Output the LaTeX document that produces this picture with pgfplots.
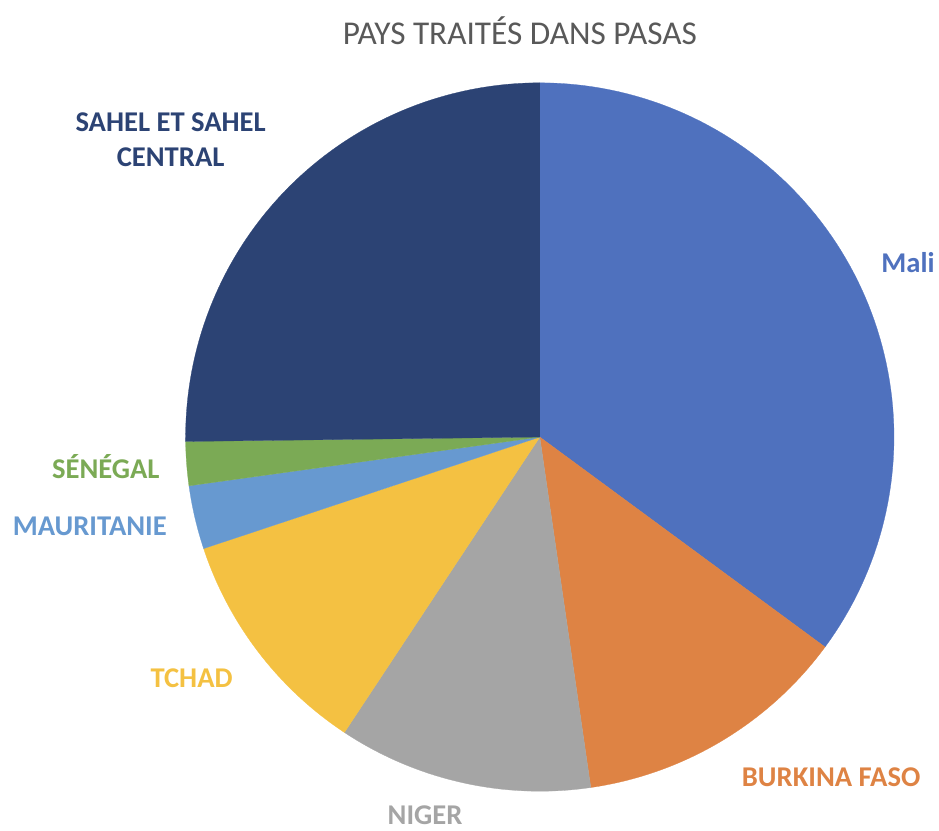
\documentclass[border=0pt]{standalone}
\usepackage{pgfplots}
\pgfplotsset{compat=1.18}
\usepackage{fontspec}
\setmainfont{Carlito}

\definecolor{cMali}{HTML}{4F71BE}
\definecolor{cBurkina}{HTML}{DE8344}
\definecolor{cNiger}{HTML}{A5A5A5}
\definecolor{cTchad}{HTML}{F4C142}
\definecolor{cMauritanie}{HTML}{6799D0}
\definecolor{cSenegal}{HTML}{7BAA55}
\definecolor{cSahel}{HTML}{2C4374}
\definecolor{cTitre}{HTML}{595959}

% one wedge: colour, cumulative share at start and end (in %), clockwise from 12 o'clock
\newcommand{\slice}[3]{%
  \addplot[fill=#1, draw=#1, line width=0.2pt, domain={90-3.6*#3}:{90-3.6*#2}, samples=90]
    ({541+355*cos(x)},{394+355*sin(x)}) -- (axis cs:541,394) -- cycle;}

\begin{document}
\begin{tikzpicture}
\begin{axis}[
    scale only axis, width=704.25pt, height=624pt,
    xmin=0, xmax=939, ymin=0, ymax=832,
    hide axis, clip=false,
  ]
  \path (axis cs:0,0) rectangle (axis cs:939,832);

  % parts (%): Mali 35.1, Burkina Faso 12.6, Niger 11.6, Tchad 10.6,
  % Mauritanie 2.9, Sénégal 2.0, Sahel et Sahel central 25.2
  \slice{cMali}{0}{35.1}
  \slice{cBurkina}{35.1}{47.7}
  \slice{cNiger}{47.7}{59.3}
  \slice{cTchad}{59.3}{69.9}
  \slice{cMauritanie}{69.9}{72.8}
  \slice{cSenegal}{72.8}{74.8}
  \slice{cSahel}{74.8}{100}

  \node[text=cTitre, font=\fontsize{25}{30}\selectfont] at (axis cs:521,801) {PAYS TRAITÉS DANS PASAS};

  \begin{scope}[font=\fontsize{21.5}{26}\selectfont\bfseries]
  \node[text=cMali] at (axis cs:910,569) {Mali};
  \node[text=cBurkina] at (axis cs:833,53) {BURKINA FASO};
  \node[text=cNiger] at (axis cs:426,15) {NIGER};
  \node[text=cTchad] at (axis cs:192,152) {TCHAD};
  \node[text=cMauritanie] at (axis cs:90,304) {MAURITANIE};
  \node[text=cSenegal] at (axis cs:106,364) {SÉNÉGAL};
  \node[text=cSahel, align=center] at (axis cs:171,692) {SAHEL ET SAHEL\\CENTRAL};
  \end{scope}
\end{axis}
\end{tikzpicture}
\end{document}
